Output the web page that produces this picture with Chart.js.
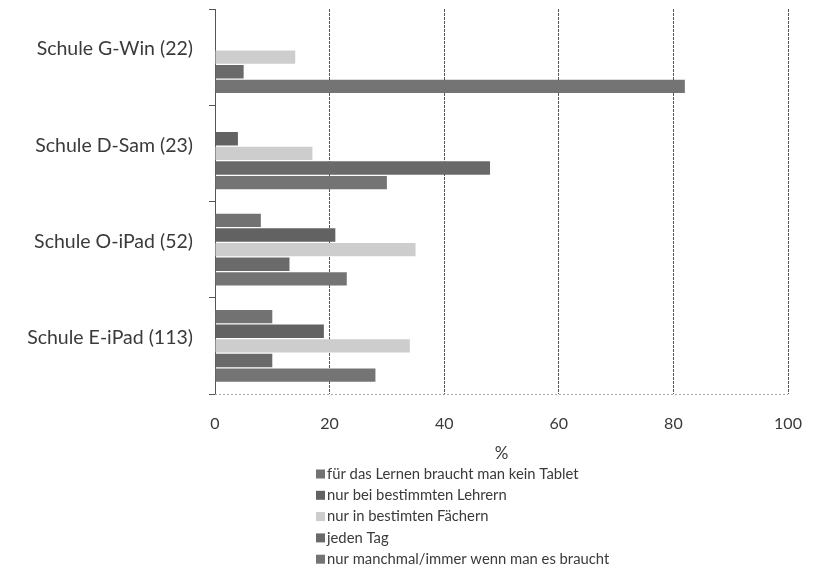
<!DOCTYPE html>
<html>
<head>
<meta charset="utf-8">
<script src="https://cdn.jsdelivr.net/npm/chart.js@4/dist/chart.umd.min.js"></script>
<style>
  html, body { margin: 0; padding: 0; background: #fff; }
  #wrap { position: relative; width: 813px; height: 568px; }
</style>
</head>
<body>
<div id="wrap"><canvas id="c" width="813" height="568"></canvas></div>
<script>
// Schools (number of respondents in brackets)
const schools = ['Schule G-Win (22)', 'Schule D-Sam (23)', 'Schule O-iPad (52)', 'Schule E-iPad (113)'];

// Answer categories, in legend order
const answers = [
  'für das Lernen braucht man kein Tablet',
  'nur bei bestimmten Lehrern',
  'nur in bestimten Fächern',
  'jeden Tag',
  'nur manchmal/immer wenn man es braucht'
];

// Share of answers per school, in %
const keinTablet   = [0, 0, 8, 10];
const beiLehrern   = [0, 4, 21, 19];
const inFaechern   = [14, 17, 35, 34];
const jedenTag     = [5, 48, 13, 10];
const manchmal     = [82, 30, 23, 28];

const xTicks = [0, 20, 40, 60, 80, 100];

const series = [keinTablet, beiLehrern, inFaechern, jedenTag, manchmal];
const fills = ['#727272', '#626262', '#cdcdcd', '#6a6a6a', '#747474'];

const FONT = 'Lato, "Open Sans", sans-serif';
const TEXT = '#3a3a3a';

// Vertical legend below the axis title
const stackedLegend = {
  id: 'stackedLegend',
  afterDraw(chart) {
    const ctx = chart.ctx;
    const top = chart.chartArea.bottom + 80;
    const step = 21.3;
    ctx.save();
    ctx.font = '14.8px ' + FONT;
    ctx.textBaseline = 'middle';
    ctx.textAlign = 'left';
    chart.data.datasets.forEach((ds, i) => {
      const y = top + i * step;
      ctx.fillStyle = ds.backgroundColor;
      ctx.fillRect(316, y - 4.5, 9, 9);
      ctx.fillStyle = TEXT;
      ctx.fillText(ds.label, 327, y);
    });
    ctx.restore();
  }
};

// Light dashed baseline under the bars
const baseLine = {
  id: 'baseLine',
  afterDatasetsDraw(chart) {
    const { ctx, chartArea: a } = chart;
    ctx.save();
    ctx.strokeStyle = '#a8a8a8';
    ctx.lineWidth = 1;
    ctx.setLineDash([2, 2]);
    ctx.beginPath();
    ctx.moveTo(a.left, a.bottom + 0.5);
    ctx.lineTo(a.right, a.bottom + 0.5);
    ctx.stroke();
    ctx.restore();
  }
};

new Chart(document.getElementById('c'), {
  type: 'bar',
  data: {
    labels: schools,
    datasets: answers.map((a, i) => ({
      label: a,
      data: series[i],
      backgroundColor: fills[i],
      borderWidth: 0,
      categoryPercentage: 0.76,
      barPercentage: 0.92
    }))
  },
  options: {
    indexAxis: 'y',
    responsive: false,
    animation: false,
    layout: { padding: { top: 9, right: 25, bottom: 104, left: 0 } },
    plugins: { legend: { display: false }, tooltip: { enabled: false } },
    scales: {
      x: {
        min: 0, max: 100,
        afterBuildTicks(scale) { scale.ticks = xTicks.map(v => ({ value: v })); },
        afterFit(scale) {
          scale.height = 70;
          scale.paddingLeft = 0; scale.paddingRight = 0;
        },
        grid: { color: '#555', lineWidth: 1, drawTicks: false, tickLength: 0 },
        border: { display: false, dash: [3, 1] },
        ticks: { padding: 20, color: TEXT, font: { family: FONT, size: 16 } },
        title: { display: true, text: '%', color: TEXT, padding: { top: 0, bottom: 0 }, font: { family: FONT, size: 17 } }
      },
      y: {
        afterFit(scale) {
          scale.width = 215;
          scale.paddingTop = 0; scale.paddingBottom = 0;
        },
        offset: true,
        grid: { offset: true, drawOnChartArea: false, drawTicks: true, tickLength: 6, color: '#555' },
        border: { display: true, color: '#555' },
        ticks: { padding: 16, labelOffset: -8, color: TEXT, font: { family: FONT, size: 19.5 } }
      }
    }
  },
  plugins: [baseLine, stackedLegend]
});
</script>
</body>
</html>
